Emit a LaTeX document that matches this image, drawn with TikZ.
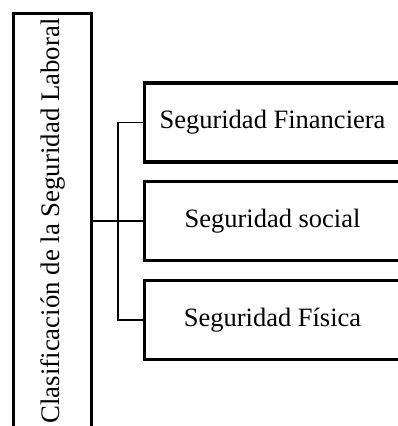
\documentclass[tikz,border=0pt]{standalone}
\usepackage{fontspec}
\setmainfont{Liberation Serif}
\usepackage{tikz}
\tikzset{
  box/.style={draw, line width=3.4pt, minimum width=256pt, minimum height=79pt,
    inner sep=0pt, font=\fontsize{26.5}{30}\selectfont},
  link/.style={draw, line width=1.8pt}
}

\begin{document}
\begin{tikzpicture}[x=1pt, y=1pt]
  \useasboundingbox (0,0) rectangle (398,426);
  \begin{scope}
    \clip (0,0) rectangle (398,426);
    % main category, written upwards
    \node[box, rotate=90, minimum width=415pt, minimum height=78pt,
      font=\fontsize{26.8}{30}\selectfont] (clasif) at (52.5,205)
      {Clasificación de la Seguridad Laboral};
    % the three kinds
    \node[box] (financiera) at (272.5,303.5) {Seguridad Financiera};
    \node[box] (social) at (272.5,205) {Seguridad social};
    \node[box] (fisica) at (272.5,106) {Seguridad Física};
    \draw[link] (clasif.south) -- (social.west);
    \draw[link] (financiera.west) -- ++(-25,0) |- (fisica.west);
  \end{scope}
\end{tikzpicture}
\end{document}
